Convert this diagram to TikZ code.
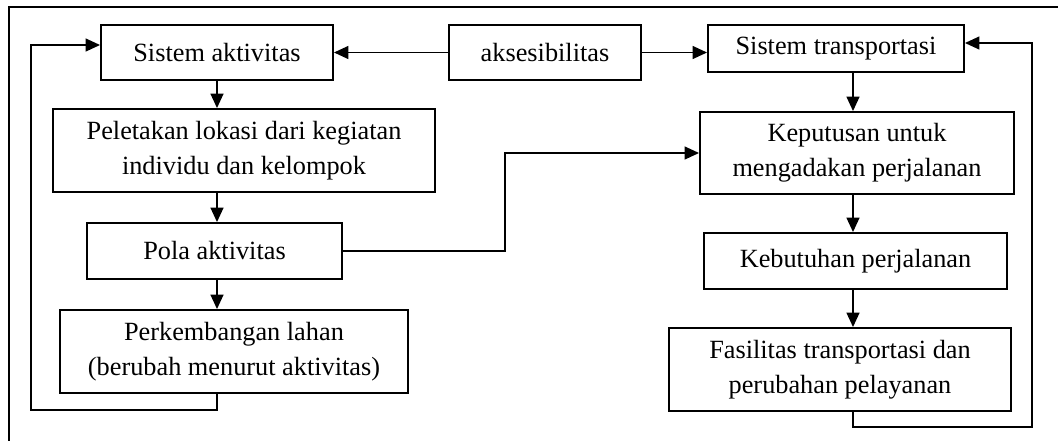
\documentclass[tikz,border=0pt]{standalone}
\usepackage{fontspec}
\setmainfont{Liberation Serif}
\usetikzlibrary{
  arrows.meta,
  calc,
  positioning
}
\tikzset{
  proc/.style={draw,line width=1.3pt,align=center,inner sep=0pt,
    font=\fontsize{18.7}{24.8}\selectfont},
  boxsize/.style 2 args={minimum width=#1,minimum height=#2},
  flow/.style={-{Triangle[length=3.6mm,width=3.2mm]},line width=1.3pt},
  frameline/.style={line width=1.3pt}
}

\begin{document}
\begin{tikzpicture}[x=0.025cm,y=-0.025cm]
  \useasboundingbox (0,0) rectangle (1058,441);
  \draw[frameline] (1058,7)--(9,7)--(9,441);
  \node[proc,boxsize={5.8cm}{1.375cm}] (akt) at (217,52.5) {Sistem aktivitas};
  \node[proc,boxsize={4.8cm}{1.375cm}] (aks) at (545,52.5) {aksesibilitas};
  \node[proc,boxsize={6.4cm}{1.175cm}] (trans) at (836,48.5) {Sistem transportasi};
  \node[proc,boxsize={9.55cm}{2.075cm}] (pel) at (244,150.5) {Peletakan lokasi dari kegiatan\\individu dan kelompok};
  \node[proc,boxsize={6.375cm}{1.4cm}] (pola) at (214.5,251) {Pola aktivitas};
  \node[proc,boxsize={8.7cm}{2.075cm}] (perk) at (234,351.5) {Perkembangan lahan\\(berubah menurut aktivitas)};
  \node[proc,boxsize={7.85cm}{2.05cm}] (kep) at (857,153) {Keputusan untuk\\mengadakan perjalanan};
  \node[proc,boxsize={7.575cm}{1.4cm}] (keb) at (855.5,261) {Kebutuhan perjalanan};
  \node[proc,boxsize={8.55cm}{2.075cm}] (fas) at (840,369.5) {Fasilitas transportasi dan\\perubahan pelayanan};
  \coordinate (lcol) at (217,0);
  \coordinate (rcol) at (853,0);
  \coordinate (jog) at (505,0);
  \coordinate (lback) at (31,410);
  \coordinate (rback) at (1032,427);
  \draw[flow] (aks.west)--(akt.east);
  \draw[flow] (aks.east)--(aks.east -| trans.west);
  \draw[flow] (lcol |- akt.south)--(lcol |- pel.north);
  \draw[flow] (lcol |- pel.south)--(lcol |- pola.north);
  \draw[flow] (lcol |- pola.south)--(lcol |- perk.north);
  \draw[flow] (rcol |- trans.south)--(rcol |- kep.north);
  \draw[flow] (rcol |- kep.south)--(rcol |- keb.north);
  \draw[flow] (rcol |- keb.south)--(rcol |- fas.north);
  \draw[flow] (pola.east)--(pola.east -| jog) |- (kep.west);
  \draw[flow] (lcol |- perk.south) |- (lback) |- ($(akt.west)+(0,-7.5)$);
  \draw[flow] (rcol |- fas.south) |- (rback) |- ($(trans.east)+(0,-5.5)$);
\end{tikzpicture}
\end{document}
